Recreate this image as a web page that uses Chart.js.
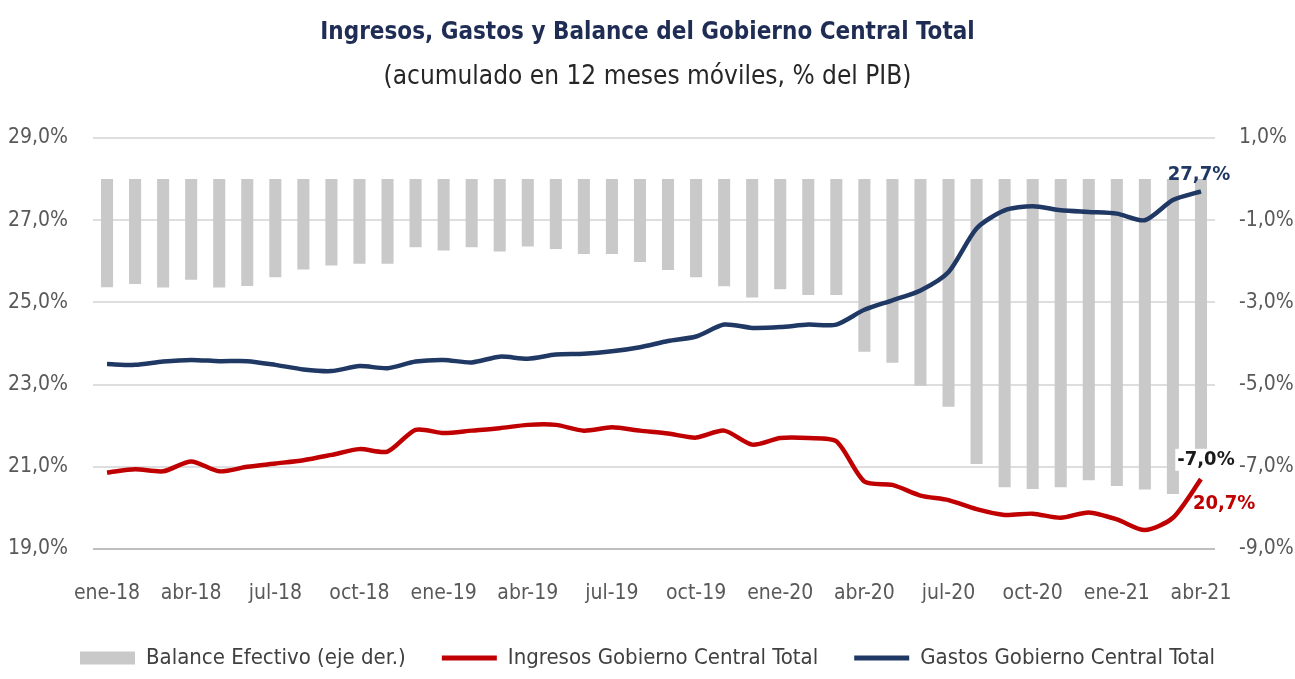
<!DOCTYPE html>
<html lang="es">
<head>
<meta charset="utf-8">
<title>Ingresos, Gastos y Balance del Gobierno Central Total</title>
<script src="https://cdn.jsdelivr.net/npm/chart.js@4.4.1/dist/chart.umd.min.js"></script>
<style>
  html, body { margin: 0; padding: 0; background: #fff; }
  #wrap { width: 1295px; height: 679px; }
</style>
</head>
<body>
<div id="wrap"><canvas id="chart" width="1295" height="679"></canvas></div>
<script>
const MESES = [
  "ene-18","feb-18","mar-18","abr-18","may-18","jun-18","jul-18","ago-18","sep-18","oct-18","nov-18","dic-18",
  "ene-19","feb-19","mar-19","abr-19","may-19","jun-19","jul-19","ago-19","sep-19","oct-19","nov-19","dic-19",
  "ene-20","feb-20","mar-20","abr-20","may-20","jun-20","jul-20","ago-20","sep-20","oct-20","nov-20","dic-20",
  "ene-21","feb-21","mar-21","abr-21"
];
// balance efectivo, eje derecho
const BALANCE = [
  -2.63, -2.55, -2.64, -2.45, -2.64, -2.60, -2.39, -2.20, -2.10, -2.06, -2.06, -1.66,
  -1.74, -1.66, -1.76, -1.64, -1.70, -1.82, -1.82, -2.02, -2.21, -2.39, -2.61, -2.88,
  -2.68, -2.82, -2.82, -4.20, -4.47, -5.03, -5.54, -6.93, -7.50, -7.54, -7.50, -7.33,
  -7.47, -7.55, -7.66, -7.00
];
const INGRESOS = [
  20.86, 20.94, 20.89, 21.13, 20.89, 21.00, 21.08, 21.16, 21.29, 21.43, 21.37, 21.90,
  21.82, 21.88, 21.94, 22.02, 22.02, 21.88, 21.96, 21.88, 21.81, 21.71, 21.88, 21.54,
  21.70, 21.70, 21.62, 20.64, 20.56, 20.30, 20.19, 19.97, 19.83, 19.86, 19.76, 19.89,
  19.72, 19.46, 19.76, 20.70
];
const GASTOS = [
  23.50, 23.48, 23.56, 23.60, 23.57, 23.57, 23.48, 23.37, 23.33, 23.45, 23.40, 23.56,
  23.60, 23.54, 23.68, 23.63, 23.73, 23.75, 23.81, 23.91, 24.06, 24.17, 24.46, 24.38,
  24.40, 24.46, 24.46, 24.82, 25.05, 25.29, 25.74, 26.80, 27.24, 27.34, 27.24, 27.20,
  27.16, 27.00, 27.49, 27.70
];
const LEFT_TICKS = [19, 29, 2];   // min, max, paso
const RIGHT_TICKS = [-9, 1, 2];

const FONT = "'DejaVu Sans Condensed', 'DejaVu Sans', sans-serif";
const NAVY = "#1f3864";
const RED = "#c00000";
const GRAY = "#c9c9c9";

const fmt = v => v.toFixed(1).replace(".", ",") + "%";

Chart.defaults.font.family = FONT;
Chart.defaults.color = "#595959";

// etiquetas del último mes
const lastLabels = {
  id: "lastLabels",
  afterDatasetsDraw(chart) {
    const ctx = chart.ctx;
    const n = MESES.length - 1;
    const bar = chart.getDatasetMeta(0).data[n];
    const ing = chart.getDatasetMeta(1).data[n];
    const gas = chart.getDatasetMeta(2).data[n];
    ctx.save();
    ctx.font = "bold 20px " + FONT;
    ctx.textBaseline = "middle";
    ctx.textAlign = "center";
    ctx.fillStyle = NAVY;
    ctx.fillText(fmt(GASTOS[n]), gas.x - 2, gas.y - 17);
    const t = fmt(BALANCE[n]);
    const w = ctx.measureText(t).width;
    ctx.fillStyle = "#fff";
    ctx.fillRect(bar.x + 5 - w / 2 - 2, bar.y - 18, w + 4, 22);
    ctx.fillStyle = "#1a1a1a";
    ctx.fillText(t, bar.x + 5, bar.y - 7);
    ctx.textAlign = "left";
    ctx.fillStyle = RED;
    ctx.fillText(fmt(INGRESOS[n]), ing.x - 8, ing.y + 25);
    ctx.restore();
  }
};

new Chart(document.getElementById("chart"), {
  type: "bar",
  data: {
    labels: MESES,
    datasets: [
      { type: "bar", label: "Balance Efectivo (eje der.)", data: BALANCE, yAxisID: "y1",
        backgroundColor: GRAY, barPercentage: 0.43, categoryPercentage: 1, order: 3 },
      { type: "line", label: "Ingresos Gobierno Central Total", data: INGRESOS, yAxisID: "y",
        borderColor: RED, borderWidth: 4.5, pointRadius: 0, tension: 0.25, order: 2 },
      { type: "line", label: "Gastos Gobierno Central Total", data: GASTOS, yAxisID: "y",
        borderColor: NAVY, borderWidth: 4.5, pointRadius: 0, tension: 0.25, order: 1 }
    ]
  },
  options: {
    responsive: false, animation: false, devicePixelRatio: 1,
    layout: { padding: 0 },
    plugins: {
      title: { display: true, text: "Ingresos, Gastos y Balance del Gobierno Central Total",
        color: "#1f2d54", font: { size: 24, weight: "bold" }, padding: { top: 18, bottom: 0 } },
      subtitle: { display: true, text: "(acumulado en 12 meses móviles, % del PIB)",
        color: "#262626", font: { size: 26 }, padding: { top: 15, bottom: 45 } },
      legend: {
        position: "bottom",
        labels: {
          usePointStyle: true, pointStyleWidth: 55, boxHeight: 13, padding: 36,
          color: "#404040", font: { size: 22 },
          generateLabels: chart => chart.data.datasets.map((ds, i) => ({
            text: ds.label, datasetIndex: i, hidden: false,
            fillStyle: ds.type === "bar" ? ds.backgroundColor : ds.borderColor,
            strokeStyle: ds.type === "bar" ? ds.backgroundColor : ds.borderColor,
            lineWidth: ds.type === "bar" ? 0 : 5,
            pointStyle: ds.type === "bar" ? "rect" : "line",
            fontColor: "#404040"
          }))
        }
      },
      tooltip: { enabled: false }
    },
    scales: {
      x: {
        offset: true,
        grid: { display: false }, border: { display: false },
        ticks: { autoSkip: false, maxRotation: 0, minRotation: 0, padding: 24, font: { size: 21 },
          callback: (v, i) => i % 3 === 0 ? MESES[i] : "" },
        afterFit: s => { s.height = 62; }
      },
      y: {
        position: "left", min: LEFT_TICKS[0], max: LEFT_TICKS[1],
        ticks: { stepSize: LEFT_TICKS[2], padding: 25, font: { size: 21 }, callback: v => fmt(v) },
        grid: { drawTicks: false, lineWidth: 2,
          color: c => (c.tick && c.tick.value === LEFT_TICKS[0]) ? "#bfbfbf" : "#dedede" },
        border: { display: false },
        afterFit: s => { s.width = 93; }
      },
      y1: {
        position: "right", min: RIGHT_TICKS[0], max: RIGHT_TICKS[1],
        ticks: { stepSize: RIGHT_TICKS[2], padding: 24, font: { size: 21 }, callback: v => fmt(v) },
        grid: { display: false, drawTicks: false }, border: { display: false },
        afterFit: s => { s.width = 80; }
      }
    }
  },
  plugins: [lastLabels]
});
</script>
</body>
</html>
